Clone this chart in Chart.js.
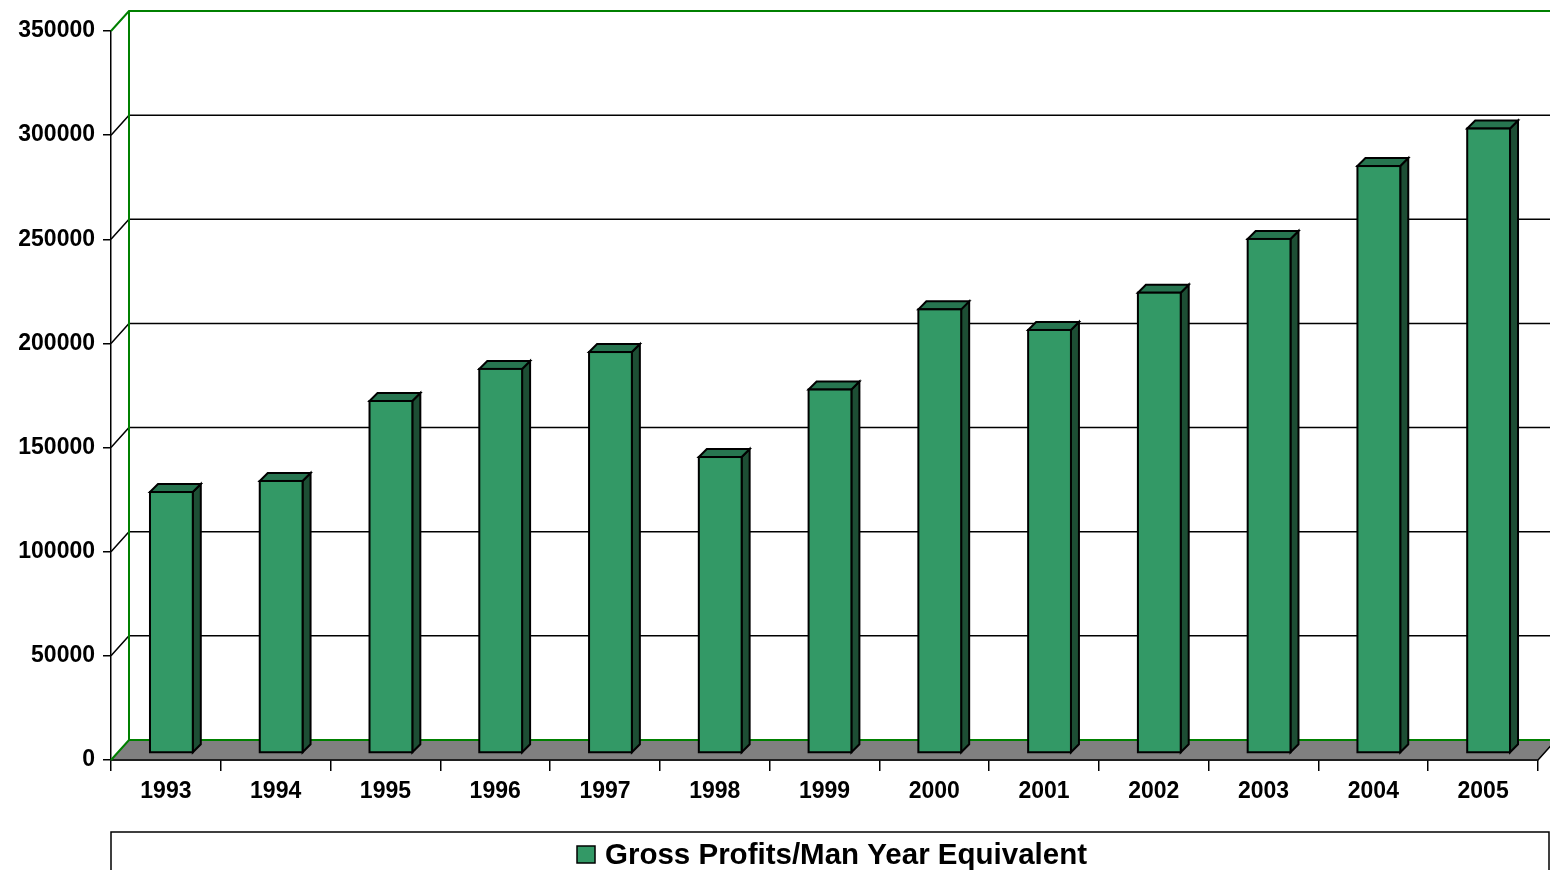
<!DOCTYPE html>
<html><head><meta charset="utf-8">
<script src="https://cdn.jsdelivr.net/npm/chart.js@4.4.0/dist/chart.umd.min.js"></script>
<style>html,body{margin:0;padding:0;background:#fff;overflow:hidden}</style>
</head><body>
<canvas id="c" width="1550" height="870"></canvas>
<script>
const categories = ['1993','1994','1995','1996','1997','1998','1999','2000','2001','2002','2003','2004','2005'];
const grossProfits = [125300,130600,169000,184400,192500,142100,174500,213000,203100,221000,246800,281800,299800];
const yTickValues = [0,50000,100000,150000,200000,250000,300000,350000];
const seriesLabel = 'Gross Profits/Man Year Equivalent';

const FONT = '"Liberation Sans", Arial, sans-serif';
const WALL = {dx:18, dy:-20};
const BAR = {fx:5.5, fy:-7, dx:8, dy:-8};
const COLORS = {face:'#339966', top:'#277550', side:'#1d4e34', floor:'#808080', wall:'#008000', line:'#000'};

const threeD = {
  id:'threeD',
  beforeDatasetsDraw(chart){
    const ctx = chart.ctx, ca = chart.chartArea, y = chart.scales.y;
    const L = ca.left, R = ca.right, y0 = y.getPixelForValue(0);
    ctx.save();
    ctx.fillStyle = COLORS.floor;
    ctx.beginPath();
    ctx.moveTo(L, y0); ctx.lineTo(L+WALL.dx, y0+WALL.dy);
    ctx.lineTo(R+WALL.dx, y0+WALL.dy); ctx.lineTo(R, y0); ctx.closePath();
    ctx.fill();
    ctx.strokeStyle = COLORS.line; ctx.lineWidth = 1.5;
    ctx.beginPath(); ctx.moveTo(L, y0); ctx.lineTo(R, y0); ctx.lineTo(R+WALL.dx, y0+WALL.dy); ctx.stroke();
    yTickValues.forEach(v => {
      const py = y.getPixelForValue(v);
      const edge = (v === yTickValues[0] || v === yTickValues[yTickValues.length-1]);
      ctx.strokeStyle = edge ? COLORS.wall : COLORS.line;
      ctx.lineWidth = edge ? 2 : 1.5;
      ctx.beginPath();
      ctx.moveTo(L, py); ctx.lineTo(L+WALL.dx, py+WALL.dy); ctx.lineTo(R+WALL.dx+20, py+WALL.dy);
      ctx.stroke();
    });
    ctx.strokeStyle = COLORS.wall; ctx.lineWidth = 2;
    ctx.beginPath();
    ctx.moveTo(L+WALL.dx, y.getPixelForValue(yTickValues[yTickValues.length-1])+WALL.dy);
    ctx.lineTo(L+WALL.dx, y0+WALL.dy);
    ctx.stroke();
    ctx.restore();
  },
  beforeDatasetDraw(){ return false; },
  afterDatasetsDraw(chart){
    const ctx = chart.ctx;
    const meta = chart.getDatasetMeta(0);
    ctx.save();
    ctx.lineWidth = 2; ctx.strokeStyle = COLORS.line; ctx.lineJoin = 'miter';
    meta.data.forEach(el => {
      const p = el.getProps(['x','y','base','width'], true);
      const x0 = p.x - p.width/2 + BAR.fx, x1 = p.x + p.width/2 + BAR.fx;
      const yt = p.y + BAR.fy, yb = p.base + BAR.fy;
      ctx.fillStyle = COLORS.side;
      ctx.beginPath();
      ctx.moveTo(x1, yt); ctx.lineTo(x1+BAR.dx, yt+BAR.dy); ctx.lineTo(x1+BAR.dx, yb+BAR.dy); ctx.lineTo(x1, yb); ctx.closePath();
      ctx.fill(); ctx.stroke();
      ctx.fillStyle = COLORS.top;
      ctx.beginPath();
      ctx.moveTo(x0, yt); ctx.lineTo(x0+BAR.dx, yt+BAR.dy); ctx.lineTo(x1+BAR.dx, yt+BAR.dy); ctx.lineTo(x1, yt); ctx.closePath();
      ctx.fill(); ctx.stroke();
      ctx.fillStyle = COLORS.face;
      ctx.fillRect(x0, yt, x1-x0, yb-yt);
      ctx.strokeRect(x0, yt, x1-x0, yb-yt);
    });
    ctx.restore();
  },
  afterDraw(chart){
    const ctx = chart.ctx, ca = chart.chartArea;
    const ds = chart.data.datasets[0];
    ctx.save();
    ctx.strokeStyle = '#000'; ctx.lineWidth = 1.5;
    ctx.strokeRect(ca.left, 832, 1549-ca.left, 60);
    ctx.font = 'bold 29.5px ' + FONT;
    const tw = ctx.measureText(ds.label).width;
    const box = 18, gap = 10;
    const total = box + gap + tw;
    const sx = (577+1087)/2 - total/2;
    ctx.fillStyle = ds.backgroundColor;
    ctx.fillRect(sx, 846, box, 17);
    ctx.strokeRect(sx, 846, box, 17);
    ctx.fillStyle = '#000';
    ctx.textBaseline = 'alphabetic';
    ctx.textAlign = 'left';
    ctx.fillText(ds.label, sx + box + gap, 864);
    ctx.restore();
  }
};

new Chart(document.getElementById('c'), {
  type:'bar',
  data:{labels:categories, datasets:[{label:seriesLabel, data:grossProfits, backgroundColor:'#339966', borderColor:'#000', borderWidth:2, barPercentage:0.39, categoryPercentage:1}]},
  options:{
    responsive:false, animation:false, devicePixelRatio:1,
    layout:{padding:{left:0,right:12,top:31,bottom:60}},
    plugins:{legend:{display:false}, tooltip:{enabled:false}},
    scales:{
      x:{
        offset:true,
        grid:{offset:true, drawOnChartArea:false, tickLength:11, color:'#000', lineWidth:1.5},
        border:{color:'#000', width:1.5},
        ticks:{color:'#000', font:{family:FONT, size:23, weight:'bold'}, padding:7, maxRotation:0, autoSkip:false},
        afterFit(s){ s.height = 50; }
      },
      y:{
        min:0, max:350000,
        afterBuildTicks(s){ s.ticks = yTickValues.map(v => ({value:v})); },
        grid:{drawOnChartArea:false, tickLength:8, color:'#000', lineWidth:1.5},
        border:{color:'#000', width:1.5},
        ticks:{color:'#000', font:{family:FONT, size:23, weight:'bold'}, padding:8, callback:v => String(v)},
        afterFit(s){ s.width = 111; }
      }
    }
  },
  plugins:[threeD]
});
</script>
</body></html>
